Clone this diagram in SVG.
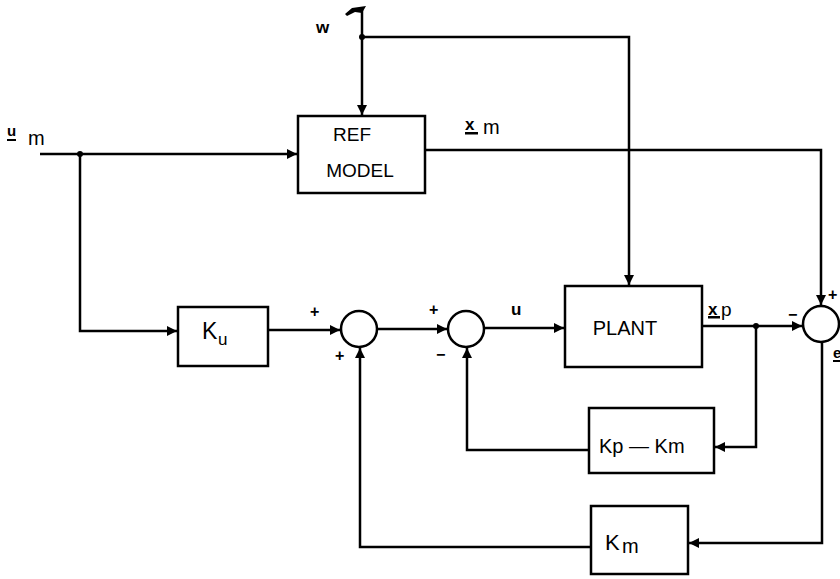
<svg xmlns="http://www.w3.org/2000/svg" width="840" height="579" viewBox="0 0 840 579">
<style>
.box{fill:#fff;stroke:#000;stroke-width:2.5}
.sum{fill:#fff;stroke:#000;stroke-width:2.5}
.wire{fill:none;stroke:#000;stroke-width:2.5}
.t{font-family:"Liberation Sans",Arial,sans-serif;fill:#000}
.sg{font-family:"Liberation Sans",Arial,sans-serif;fill:#000;font-size:16px;font-weight:bold}
</style>
<defs>
<marker id="ah" viewBox="0 0 10 10" refX="10" refY="5" markerWidth="4" markerHeight="4" orient="auto" markerUnits="strokeWidth">
<path d="M0,0 L10,5 L0,10 z" fill="#000"/>
</marker>
</defs>
<rect width="840" height="579" fill="#fff"/>
<g id="connectors">
<path class="wire" d="M40,154 H297" marker-end="url(#ah)"/>
<path class="wire" d="M80,154 V331 H177" marker-end="url(#ah)"/>
<path class="wire" d="M268,330 H340" marker-end="url(#ah)"/>
<path class="wire" d="M377,329 H447" marker-end="url(#ah)"/>
<path class="wire" d="M484,328 H564" marker-end="url(#ah)"/>
<path class="wire" d="M702,326 H802" marker-end="url(#ah)"/>
<path class="wire" d="M756,326 V447 H715" marker-end="url(#ah)"/>
<path class="wire" d="M589,450 H467 V348" marker-end="url(#ah)"/>
<path class="wire" d="M822,342 V543 H689" marker-end="url(#ah)"/>
<path class="wire" d="M591,547 H360 V348" marker-end="url(#ah)"/>
<path class="wire" d="M425,150 H821 V305" marker-end="url(#ah)"/>
<path class="wire" d="M362,10 V115" marker-end="url(#ah)"/>
<path class="wire" d="M362,37 H629 V285" marker-end="url(#ah)"/>
<circle cx="80" cy="154" r="3"/>
<circle cx="362" cy="37" r="3"/>
<circle cx="756" cy="326" r="3"/>
<path d="M345,14 L352,8 L366,6 L362,13 L355,12 L347,16 z" fill="#000"/>
</g>
<g id="refmodel">
<rect class="box" x="298" y="116" width="127" height="77"/>
<text class="t" x="352" y="141" font-size="19" text-anchor="middle">REF</text>
<text class="t" x="360" y="177" font-size="19" text-anchor="middle">MODEL</text>
</g>
<g id="ku">
<rect class="box" x="178" y="307" width="90" height="59"/>
<text class="t" x="202" y="339" font-size="23">K</text>
<text class="t" x="218" y="345" font-size="17">u</text>
</g>
<g id="sum1"><circle class="sum" cx="359" cy="329" r="18"/></g>
<g id="sum2"><circle class="sum" cx="466" cy="329" r="18"/></g>
<g id="plant">
<rect class="box" x="565" y="286" width="137" height="81"/>
<text class="t" x="625" y="335" font-size="20" text-anchor="middle">PLANT</text>
</g>
<g id="sum3"><circle class="sum" cx="821" cy="324" r="18"/></g>
<g id="kpkm">
<rect class="box" x="589" y="408" width="125" height="65"/>
<text class="t" x="599" y="453" font-size="20">Kp — Km</text>
</g>
<g id="km">
<rect class="box" x="591" y="506" width="97" height="68"/>
<text class="t" x="605" y="550" font-size="22">K</text>
<text class="t" x="622" y="553" font-size="20">m</text>
</g>
<g id="labels">
<text class="t" x="7" y="136" font-size="15" font-weight="bold">u</text>
<rect x="7" y="139" width="9" height="2"/>
<text class="t" x="28" y="145" font-size="20">m</text>
<text class="t" x="316" y="33" font-size="17" font-weight="bold">w</text>
<text class="t" x="465" y="130" font-size="17" font-weight="bold">x</text>
<rect x="465" y="132" width="13" height="2.5"/>
<text class="t" x="483" y="134" font-size="20">m</text>
<text class="t" x="511" y="315" font-size="17" font-weight="bold">u</text>
<text class="t" x="708" y="315" font-size="17" font-weight="bold">x</text>
<rect x="708" y="316" width="12" height="2.5"/>
<text class="t" x="721" y="316" font-size="19">p</text>
<text class="t" x="833" y="358" font-size="15" font-weight="bold">e</text>
<rect x="833" y="360" width="7" height="2"/>
<text class="sg" x="310" y="317">+</text>
<text class="sg" x="335" y="361">+</text>
<text class="sg" x="429" y="315">+</text>
<text class="sg" x="436" y="360">−</text>
<text class="sg" x="788" y="320">−</text>
<text class="sg" x="828" y="300">+</text>
</g>
</svg>
